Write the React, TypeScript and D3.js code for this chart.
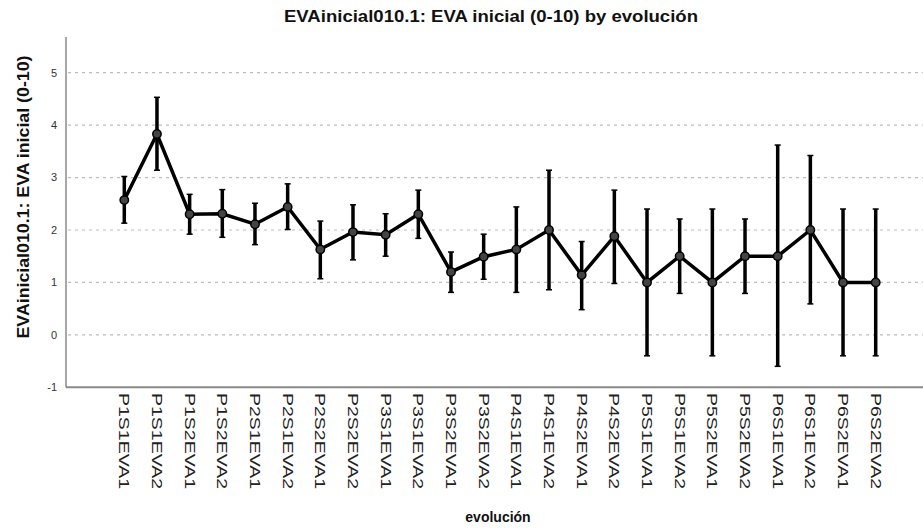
import React, { useEffect, useRef } from "react";
import * as d3 from "d3";

const categories = [
  "P1S1EVA1", "P1S1EVA2", "P1S2EVA1", "P1S2EVA2", "P2S1EVA1", "P2S1EVA2",
  "P2S2EVA1", "P2S2EVA2", "P3S1EVA1", "P3S1EVA2", "P3S2EVA1", "P3S2EVA2",
  "P4S1EVA1", "P4S1EVA2", "P4S2EVA1", "P4S2EVA2", "P5S1EVA1", "P5S1EVA2",
  "P5S2EVA1", "P5S2EVA2", "P6S1EVA1", "P6S1EVA2", "P6S2EVA1", "P6S2EVA2",
];
const means = [
  2.57, 3.83, 2.3, 2.31, 2.11, 2.44, 1.63, 1.96, 1.91, 2.3, 1.2, 1.49,
  1.63, 2.0, 1.14, 1.88, 1.0, 1.5, 1.0, 1.5, 1.5, 2.0, 1.0, 1.0,
];
const upper = [
  3.02, 4.53, 2.68, 2.77, 2.51, 2.88, 2.17, 2.48, 2.31, 2.76, 1.58, 1.92,
  2.44, 3.14, 1.78, 2.76, 2.4, 2.21, 2.4, 2.21, 3.62, 3.42, 2.4, 2.4,
];
const lower = [
  2.13, 3.14, 1.92, 1.86, 1.72, 2.01, 1.07, 1.43, 1.5, 1.84, 0.81, 1.06,
  0.81, 0.86, 0.48, 0.98, -0.4, 0.79, -0.4, 0.79, -0.6, 0.59, -0.4, -0.4,
];
const yTicks = [-1, 0, 1, 2, 3, 4, 5];

const title = "EVAinicial010.1: EVA inicial (0-10) by evolución";
const yTitle = "EVAinicial010.1: EVA inicial (0-10)";
const xTitle = "evolución";

const W = 923;
const H = 528;
const font = "Arial, 'Liberation Sans', sans-serif";

export default function App() {
  const ref = useRef<SVGSVGElement>(null);

  useEffect(() => {
    const svg = d3.select(ref.current);
    svg.selectAll("*").remove();

    const left = 66;
    const right = W;
    const bottom = 387.3;
    const top = 37;

    const x = d3.scalePoint<string>().domain(categories).range([124.3, 875.7]);
    const y = d3.scaleLinear().domain([-1, 5.68]).range([bottom, top]);

    const data = categories.map((c, i) => ({ c, m: means[i], hi: upper[i], lo: lower[i] }));

    // grid
    svg.append("g")
      .selectAll("line")
      .data(yTicks.filter((t) => t > -1))
      .join("line")
      .attr("x1", left + 2)
      .attr("x2", right)
      .attr("y1", (d) => y(d))
      .attr("y2", (d) => y(d))
      .attr("stroke", "#bdbdbd")
      .attr("stroke-width", 1.2)
      .attr("stroke-dasharray", "3,4");

    // axes
    svg.append("line")
      .attr("x1", left).attr("x2", left)
      .attr("y1", top).attr("y2", bottom)
      .attr("stroke", "#8a8a8a").attr("stroke-width", 1.5);
    svg.append("line")
      .attr("x1", left).attr("x2", right)
      .attr("y1", bottom).attr("y2", bottom)
      .attr("stroke", "#8a8a8a").attr("stroke-width", 2);

    svg.append("g")
      .selectAll("text")
      .data(yTicks)
      .join("text")
      .attr("x", 57)
      .attr("y", (d) => y(d))
      .attr("dy", "0.35em")
      .attr("text-anchor", "end")
      .attr("font-family", font)
      .attr("font-size", 11)
      .attr("fill", "#333")
      .text((d) => d);

    // x labels, rotated clockwise
    svg.append("g")
      .selectAll("text")
      .data(categories)
      .join("text")
      .attr("transform", (d) => `translate(${x(d)! - 5},393) rotate(90)`)
      .attr("font-family", font)
      .attr("font-size", 14)
      .attr("fill", "#222")
      .attr("textLength", 96)
      .attr("lengthAdjust", "spacingAndGlyphs")
      .text((d) => d);

    // error bars
    const eb = svg.append("g").attr("stroke", "#000");
    eb.selectAll("line.bar")
      .data(data)
      .join("line")
      .attr("class", "bar")
      .attr("x1", (d) => x(d.c)!)
      .attr("x2", (d) => x(d.c)!)
      .attr("y1", (d) => y(d.hi))
      .attr("y2", (d) => y(d.lo))
      .attr("stroke-width", 3.5);
    eb.selectAll("line.capHi")
      .data(data)
      .join("line")
      .attr("class", "capHi")
      .attr("x1", (d) => x(d.c)! - 3)
      .attr("x2", (d) => x(d.c)! + 3)
      .attr("y1", (d) => y(d.hi))
      .attr("y2", (d) => y(d.hi))
      .attr("stroke-width", 1.5);
    eb.selectAll("line.capLo")
      .data(data)
      .join("line")
      .attr("class", "capLo")
      .attr("x1", (d) => x(d.c)! - 3)
      .attr("x2", (d) => x(d.c)! + 3)
      .attr("y1", (d) => y(d.lo))
      .attr("y2", (d) => y(d.lo))
      .attr("stroke-width", 1.5);

    // mean line
    const line = d3.line<(typeof data)[number]>()
      .x((d) => x(d.c)!)
      .y((d) => y(d.m));
    svg.append("path")
      .datum(data)
      .attr("d", line)
      .attr("fill", "none")
      .attr("stroke", "#000")
      .attr("stroke-width", 3.5)
      .attr("stroke-linejoin", "miter");

    svg.append("g")
      .selectAll("circle")
      .data(data)
      .join("circle")
      .attr("cx", (d) => x(d.c)!)
      .attr("cy", (d) => y(d.m))
      .attr("r", 4.2)
      .attr("fill", "#444")
      .attr("stroke", "#000")
      .attr("stroke-width", 1.5);

    // titles
    svg.append("text")
      .attr("x", 491)
      .attr("y", 22)
      .attr("text-anchor", "middle")
      .attr("font-family", font)
      .attr("font-weight", "bold")
      .attr("font-size", 16)
      .attr("fill", "#111")
      .attr("textLength", 414)
      .attr("lengthAdjust", "spacingAndGlyphs")
      .text(title);

    svg.append("text")
      .attr("transform", "translate(29,197) rotate(-90)")
      .attr("text-anchor", "middle")
      .attr("font-family", font)
      .attr("font-weight", "bold")
      .attr("font-size", 17)
      .attr("fill", "#111")
      .attr("textLength", 283)
      .attr("lengthAdjust", "spacingAndGlyphs")
      .text(yTitle);

    svg.append("text")
      .attr("x", 498)
      .attr("y", 522)
      .attr("text-anchor", "middle")
      .attr("font-family", font)
      .attr("font-weight", "bold")
      .attr("font-size", 14)
      .attr("fill", "#111")
      .text(xTitle);
  }, []);

  return (
    <svg
      ref={ref}
      width={W}
      height={H}
      style={{ position: "absolute", left: 0, top: 0, background: "#fff" }}
    />
  );
}
